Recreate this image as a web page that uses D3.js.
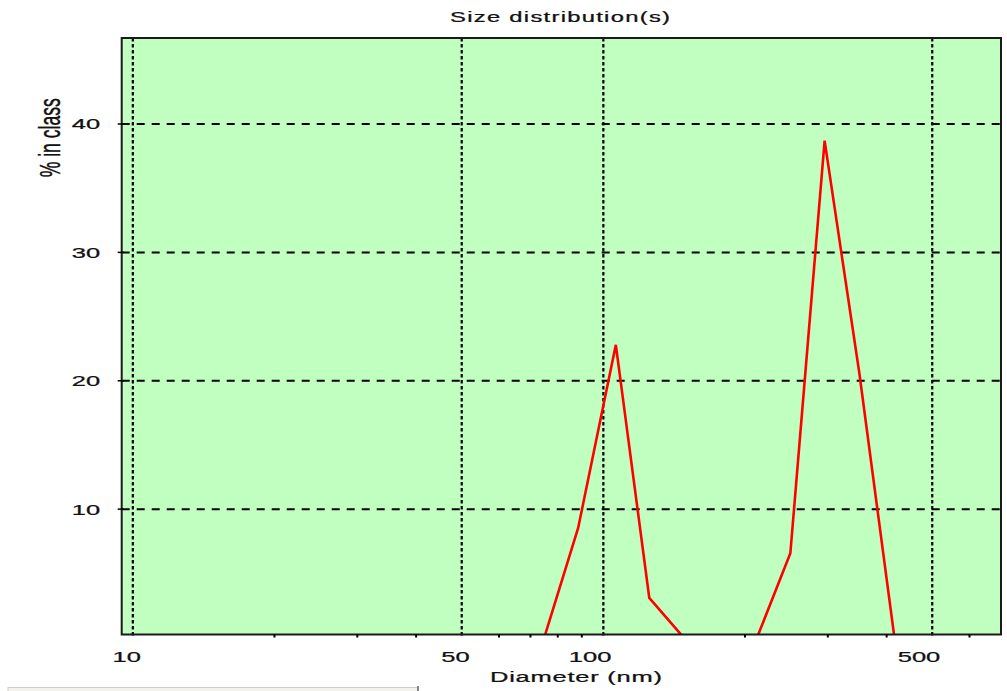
<!DOCTYPE html>
<html>
<head>
<meta charset="utf-8">
<script src="https://cdn.jsdelivr.net/npm/d3@7"></script>
<style>
  html, body { margin: 0; padding: 0; background: #ffffff; }
  svg { display: block; }
  text { font-family: "Liberation Sans", Arial, sans-serif; fill: #111; stroke: #111; stroke-width: 0.25; }
</style>
</head>
<body>
<svg id="chart" width="1007" height="691"></svg>
<script>
// Size distribution (% in class vs. diameter, log axis)
const diameters = [74.9, 88.4, 106.3, 125.2, 148.1, 212.2, 249.7, 295.3, 350.0, 415.5];
const percentInClass = [0, 8.53, 22.8, 3.08, 0, 0, 6.56, 38.7, 20.58, 0];

const xLabelTicks = [10, 50, 100, 500];
const xMinorTicks = [20, 30, 40, 60, 70, 80, 90, 200, 300, 400, 600];
const yTicks = [10, 20, 30, 40];

const titleText = "Size distribution(s)";
const xTitle = "Diameter (nm)";
const yTitle = "% in class";

const svg = d3.select("#chart");
const plot = { left: 121.7, right: 1001, top: 38, bottom: 634.5 };
const stretch = 1.7; // glyphs are drawn wide, as in the instrument software

const x = d3.scaleLog().domain([9.47, 700]).range([plot.left, plot.right]);
const y = d3.scaleLinear().domain([0.234, 46.7]).range([plot.bottom, plot.top]);

// plot background
svg.append("rect")
  .attr("x", plot.left).attr("y", plot.top)
  .attr("width", plot.right - plot.left).attr("height", plot.bottom - plot.top)
  .attr("fill", "#c0ffc0");

svg.append("clipPath").attr("id", "plotClip")
  .append("rect")
  .attr("x", plot.left).attr("y", plot.top)
  .attr("width", plot.right - plot.left).attr("height", plot.bottom - plot.top);

// horizontal dashed grid
svg.append("g").selectAll("line").data(yTicks).join("line")
  .attr("x1", plot.left).attr("x2", plot.right)
  .attr("y1", d => y(d)).attr("y2", d => y(d))
  .attr("stroke", "#000").attr("stroke-width", 2)
  .attr("stroke-dasharray", "8,7");

// vertical dotted grid
svg.append("g").selectAll("line").data(xLabelTicks).join("line")
  .attr("x1", d => x(d)).attr("x2", d => x(d))
  .attr("y1", plot.top).attr("y2", plot.bottom + 3)
  .attr("stroke", "#000").attr("stroke-width", 2.2)
  .attr("stroke-dasharray", "3.5,2.5");

// distribution curve
const line = d3.line()
  .x((d, i) => x(diameters[i]))
  .y(d => y(d));
svg.append("path")
  .datum(percentInClass)
  .attr("clip-path", "url(#plotClip)")
  .attr("d", line)
  .attr("fill", "none")
  .attr("stroke", "#ff0000")
  .attr("stroke-width", 2.6)
  .attr("stroke-linejoin", "miter");

// frame
svg.append("rect")
  .attr("x", plot.left).attr("y", plot.top)
  .attr("width", plot.right - plot.left).attr("height", plot.bottom - plot.top)
  .attr("fill", "none").attr("stroke", "#1a1a1a").attr("stroke-width", 2);

// x minor ticks
svg.append("g").selectAll("line").data(xMinorTicks).join("line")
  .attr("x1", d => x(d)).attr("x2", d => x(d))
  .attr("y1", plot.bottom).attr("y2", plot.bottom + 3)
  .attr("stroke", "#000").attr("stroke-width", 2);

// y ticks
svg.append("g").selectAll("line").data(yTicks).join("line")
  .attr("x1", plot.left - 4).attr("x2", plot.left + 2)
  .attr("y1", d => y(d)).attr("y2", d => y(d))
  .attr("stroke", "#000").attr("stroke-width", 1.5);

// y tick labels
svg.append("g").selectAll("g").data(yTicks).join("g")
  .attr("transform", d => `translate(${plot.left - 21.5},${y(d) + 5.4}) scale(${stretch},1)`)
  .append("text")
  .attr("text-anchor", "end")
  .attr("font-size", 15)
  .text(d => d);

// x tick labels
svg.append("g").selectAll("g").data(xLabelTicks).join("g")
  .attr("transform", d => `translate(${x(d) + 8},661.5) scale(${stretch},1)`)
  .append("text")
  .attr("text-anchor", "end")
  .attr("font-size", 15)
  .text(d => d);

// title
svg.append("g")
  .attr("transform", `translate(560,21.7) scale(${stretch},1)`)
  .append("text")
  .attr("text-anchor", "middle")
  .attr("font-size", 14)
  .attr("textLength", 220 / stretch)
  .attr("lengthAdjust", "spacing")
  .text(titleText);

// x axis title
svg.append("g")
  .attr("transform", `translate(576,681.5) scale(${stretch},1)`)
  .append("text")
  .attr("text-anchor", "middle")
  .attr("font-size", 15)
  .attr("textLength", 172 / stretch)
  .attr("lengthAdjust", "spacing")
  .text(xTitle);

// y axis title
svg.append("g")
  .attr("transform", `translate(59.5,137.8) scale(${stretch},1) rotate(-90)`)
  .append("text")
  .attr("text-anchor", "middle")
  .attr("font-size", 17)
  .attr("textLength", 79)
  .attr("lengthAdjust", "spacingAndGlyphs")
  .text(yTitle);

// window edge strip at the lower left
svg.append("rect")
  .attr("x", 8).attr("y", 687.5).attr("width", 410).attr("height", 6)
  .attr("fill", "#f3f2ec").attr("stroke", "#cfcdc4").attr("stroke-width", 1);
svg.append("line")
  .attr("x1", 418).attr("x2", 418).attr("y1", 686).attr("y2", 691)
  .attr("stroke", "#666").attr("stroke-width", 1.5);
</script>
</body>
</html>
